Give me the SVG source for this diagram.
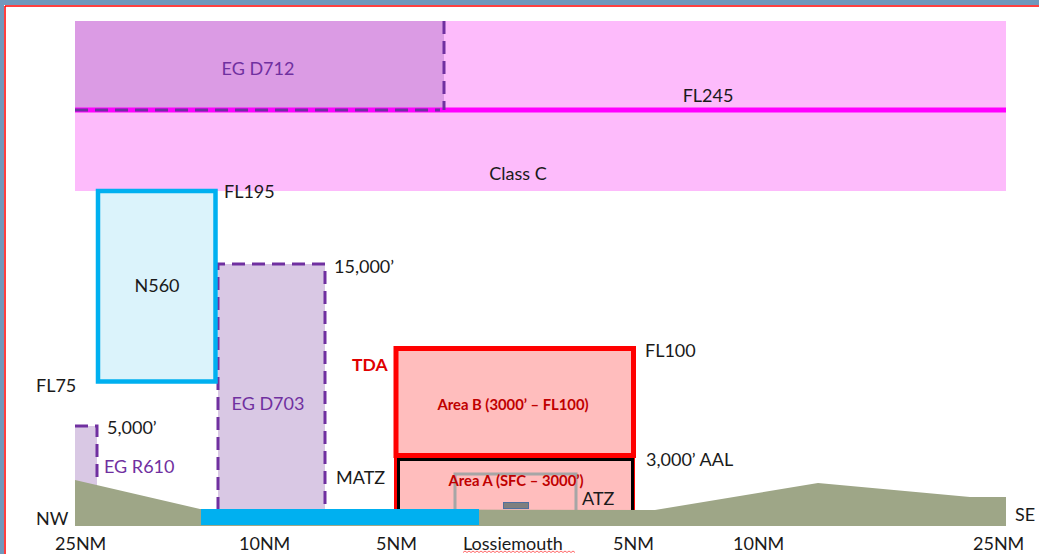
<svg xmlns="http://www.w3.org/2000/svg" width="1039" height="554" viewBox="0 0 1039 554">
<style>
  text { font-family: Lato, "Liberation Sans", sans-serif; font-size: 18px; fill: #1a1a1a; }
  .purple { fill: #7030A0; }
  .dash { fill: none; stroke: #7030A0; stroke-width: 3; stroke-dasharray: 13 7; }
  .redb { font-weight: bold; fill: #C00000; font-size: 14.8px; }
</style>
<rect x="0" y="0" width="1039" height="554" fill="#ffffff"/>
<rect x="0" y="0" width="1039" height="5" fill="#7098BC"/>
<rect x="0" y="0" width="4" height="554" fill="#7098BC"/>
<line x1="5" y1="6" x2="1039" y2="6" stroke="#FF0000" stroke-width="1.5"/>
<line x1="5" y1="6" x2="5" y2="554" stroke="#FF0000" stroke-width="1.5"/>

<g id="classC">
  <rect x="75" y="21" width="931" height="170" fill="#FDBBFB"/>
  <text x="518" y="180" text-anchor="middle">Class C</text>
</g>
<g id="d712">
  <rect x="75" y="21" width="369" height="89" fill="#DB9BE4"/>
  <text x="258" y="75" text-anchor="middle" class="purple">EG D712</text>
</g>
<g id="fl245">
  <line x1="75" y1="110" x2="1006" y2="110" stroke="#FF00FF" stroke-width="5"/>
  <path class="dash" d="M444 21 V110" />
  <path class="dash" d="M75 110 H440" stroke-dasharray="12 12"/>
  <text x="708" y="102" text-anchor="middle">FL245</text>
</g>

<g id="d703">
  <rect x="218" y="264" width="107" height="246" fill="#D9C8E4"/>
  <path class="dash" d="M218 510 V264 H325 V510"/>
  <text x="268" y="410" text-anchor="middle" class="purple">EG D703</text>
  <text x="334" y="273">15,000’</text>
</g>

<g id="n560">
  <rect x="98" y="191" width="117.5" height="190.5" fill="#DBF3FB" stroke="#00B0F0" stroke-width="4.5"/>
  <text x="157" y="292" text-anchor="middle">N560</text>
  <text x="224" y="198">FL195</text>
  <text x="36" y="392">FL75</text>
</g>

<g id="r610">
  <rect x="75" y="426" width="22" height="60" fill="#D9C8E4"/>
  <path class="dash" d="M75 426 H97 V484" stroke-dasharray="9 7"/>
  <text x="107" y="434">5,000’</text>
  <text x="104" y="473" class="purple">EG R610</text>
</g>

<g id="tda">
  <rect x="396" y="348.5" width="237.5" height="107" fill="#FFBDBD" stroke="#FF0000" stroke-width="5"/>
  <rect x="394" y="456" width="5" height="55" fill="#FF0000"/>
  <rect x="630" y="456" width="5" height="55" fill="#FF0000"/>
  <text x="352" y="371" style="font-weight:bold;fill:#E00000;font-size:17.5px">TDA</text>
  <text x="513" y="410" text-anchor="middle" class="redb">Area B (3000’ – FL100)</text>
  <text x="645" y="357">FL100</text>
</g>

<g id="areaA">
  <rect x="398.5" y="459.5" width="234" height="54" fill="#FFBDBD" stroke="#000000" stroke-width="3"/>
  <text x="646" y="466">3,000’ AAL</text>
  <text x="336" y="484">MATZ</text>
</g>

<g id="atz">
  <path d="M455 511 V474 H576 V511" fill="none" stroke="#A6A6A6" stroke-width="3"/>
  <rect x="503.5" y="502.5" width="25" height="6" fill="#7F7F7F" stroke="#4F6F9F" stroke-width="1"/>
  <text x="516" y="486" text-anchor="middle" class="redb">Area A (SFC – 3000’)</text>
  <text x="582" y="505">ATZ</text>
</g>

<g id="ground">
  <path d="M75 480 L200 509 L655 510 L818 483 L970 497 L1006 497 L1006 526 L75 526 Z" fill="#9EA687"/>
  <rect x="201" y="509" width="278" height="16" fill="#00B0F0"/>
</g>

<g id="labels">
  <text x="36" y="525">NW</text>
  <text x="1015" y="521">SE</text>
  <text x="55" y="550">25NM</text>
  <text x="239" y="550">10NM</text>
  <text x="376" y="550">5NM</text>
  <text x="463" y="550">Lossiemouth</text>
  <path d="M463 552.5 l2 -1.5 l2 1.5 l2 -1.5 l2 1.5 l2 -1.5 l2 1.5 l2 -1.5 l2 1.5 l2 -1.5 l2 1.5 l2 -1.5 l2 1.5 l2 -1.5 l2 1.5 l2 -1.5 l2 1.5 l2 -1.5 l2 1.5 l2 -1.5 l2 1.5 l2 -1.5 l2 1.5 l2 -1.5 l2 1.5 l2 -1.5 l2 1.5 l2 -1.5 l2 1.5 l2 -1.5 l2 1.5 l2 -1.5 l2 1.5 l2 -1.5 l2 1.5 l2 -1.5 l2 1.5 l2 -1.5 l2 1.5 l2 -1.5 l2 1.5 l2 -1.5 l2 1.5 l2 -1.5 l2 1.5 l2 -1.5 l2 1.5 l2 -1.5 l2 1.5 l2 -1.5 l2 1.5 l2 -1.5 l2 1.5 l2 -1.5 l2 1.5 l2 -1.5 l2 1.5" fill="none" stroke="#FF4040" stroke-width="0.8"/>
  <text x="613" y="550">5NM</text>
  <text x="733" y="550">10NM</text>
  <text x="973" y="550">25NM</text>
</g>
</svg>
